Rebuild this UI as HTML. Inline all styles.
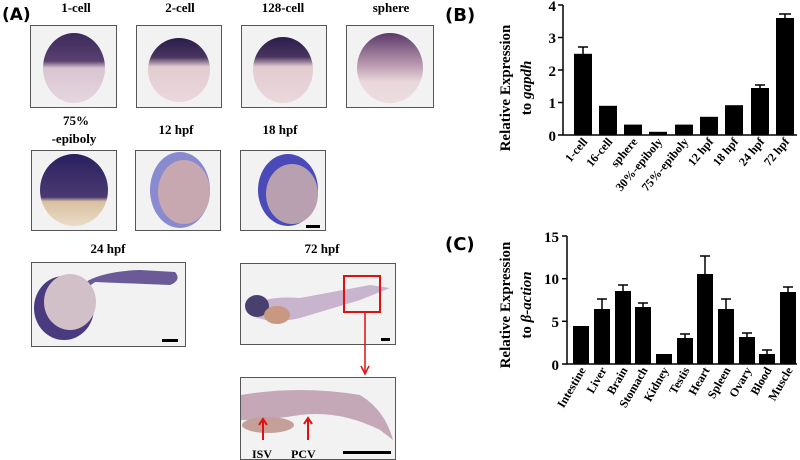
<!DOCTYPE html>
<html><head><meta charset="utf-8"><style>body{margin:0;background:#fff}svg{display:block}</style></head><body>
<svg width="800" height="460" viewBox="0 0 800 460" xmlns="http://www.w3.org/2000/svg" font-family="Liberation Serif, serif" font-weight="bold">
<defs>
<linearGradient id="e1" x1="0" y1="0" x2="0" y2="1"><stop offset="0" stop-color="#3a2a5a"/><stop offset="0.4" stop-color="#5a4070"/><stop offset="0.5" stop-color="#d8c4d0"/><stop offset="1" stop-color="#e6d6de"/></linearGradient>
<linearGradient id="e2" x1="0" y1="0" x2="0" y2="1"><stop offset="0" stop-color="#2a1d4a"/><stop offset="0.3" stop-color="#4a3460"/><stop offset="0.45" stop-color="#e2ccd0"/><stop offset="1" stop-color="#ead8dc"/></linearGradient>
<linearGradient id="e3" x1="0" y1="0" x2="0" y2="1"><stop offset="0" stop-color="#5a3a68"/><stop offset="0.5" stop-color="#c4a4b8"/><stop offset="0.7" stop-color="#ead8dc"/><stop offset="1" stop-color="#ecdcdf"/></linearGradient>
<linearGradient id="e4" x1="0" y1="0" x2="0" y2="1"><stop offset="0" stop-color="#2a2060"/><stop offset="0.6" stop-color="#4a3a70"/><stop offset="0.66" stop-color="#d8c0a0"/><stop offset="1" stop-color="#eadcc8"/></linearGradient>
</defs>
<text x="2" y="20" font-family="DejaVu Sans, sans-serif" font-size="17">(A)</text>
<g font-size="13" text-anchor="middle">
<text x="76" y="12">1-cell</text><text x="180" y="12">2-cell</text><text x="283" y="12">128-cell</text><text x="391" y="12">sphere</text>
<text x="76" y="125">75%</text><text x="74" y="143">-epiboly</text><text x="176" y="134">12 hpf</text><text x="280" y="134">18 hpf</text>
<text x="108" y="253">24 hpf</text><text x="322" y="253">72 hpf</text>
</g>
<g stroke="#555" stroke-width="1" fill="#f2f2f2">
<rect x="30.5" y="25.5" width="86" height="82"/><rect x="136.5" y="25.5" width="85" height="82"/><rect x="241.5" y="25.5" width="85" height="82"/><rect x="346.5" y="25.5" width="87" height="82"/>
<rect x="31.5" y="150.5" width="85" height="80"/><rect x="135.5" y="150.5" width="85" height="80"/><rect x="240.5" y="150.5" width="85" height="80"/>
<rect x="31.5" y="262.5" width="154" height="84"/><rect x="240.5" y="263.5" width="155" height="81"/><rect x="240.5" y="377.5" width="155" height="82"/>
</g>
<ellipse cx="74" cy="68" rx="31" ry="35" fill="url(#e1)"/>
<ellipse cx="179" cy="70" rx="31" ry="32" fill="url(#e2)"/>
<ellipse cx="283" cy="70" rx="30" ry="33" fill="url(#e2)"/>
<ellipse cx="390" cy="68" rx="33" ry="35" fill="url(#e3)"/>
<ellipse cx="74" cy="190" rx="34" ry="36" fill="url(#e4)"/>
<ellipse cx="180" cy="190" rx="30" ry="38" fill="#8a8ad0"/><ellipse cx="184" cy="192" rx="26" ry="32" fill="#c8a8b0"/>
<ellipse cx="288" cy="190" rx="30" ry="36" fill="#4a4ab8"/><ellipse cx="292" cy="194" rx="26" ry="30" fill="#b8a0b0"/>
<rect x="306" y="225" width="14" height="3" fill="#000"/>
<path d="M70 300 Q80 272 140 270 L175 272 Q182 280 170 285 L95 282 Z" fill="#6a5a98"/>
<ellipse cx="64" cy="308" rx="30" ry="32" fill="#4a3a80"/><ellipse cx="70" cy="302" rx="26" ry="28" fill="#d2c0c8"/>
<rect x="162" y="339" width="16" height="3" fill="#000"/>
<path d="M250 310 Q260 295 300 298 L370 285 L390 288 L360 300 L300 318 Q270 325 250 315 Z" fill="#c8b4cc"/>
<ellipse cx="257" cy="306" rx="12" ry="11" fill="#4a4070"/><ellipse cx="277" cy="315" rx="13" ry="9" fill="#c89880"/>
<rect x="381" y="338" width="9" height="3" fill="#000"/>
<rect x="344" y="276" width="36" height="36" fill="none" stroke="#e01010" stroke-width="2"/>
<line x1="365" y1="312" x2="365" y2="372" stroke="#e01010" stroke-width="1.5"/>
<path d="M361 366 L365 374 L369 366" fill="none" stroke="#e01010" stroke-width="1.5"/>
<path d="M241 395 Q300 385 360 395 Q385 410 393 440 L380 430 Q340 410 300 415 Q270 420 241 420 Z" fill="#c4a8b8"/>
<ellipse cx="268" cy="425" rx="26" ry="8" fill="#c4a098"/>
<g stroke="#e01010" stroke-width="2" fill="none"><path d="M263 440 L263 420 M259 425 L263 419 L267 425"/><path d="M308 440 L308 419 M304 424 L308 418 L312 424"/></g>
<text x="252" y="458" font-size="12">ISV</text><text x="291" y="458" font-size="12">PCV</text>
<rect x="343" y="451" width="48" height="3" fill="#000"/>
<!-- B -->
<text x="445" y="21" font-family="DejaVu Sans, sans-serif" font-size="18">(B)</text>
<g font-size="15" text-anchor="middle"><text transform="translate(510,88) rotate(-90)">Relative Expression</text><text transform="translate(531,88) rotate(-90)">to <tspan font-style="italic">gapdh</tspan></text></g>
<g stroke="#000" stroke-width="1.5"><line x1="563" y1="5" x2="563" y2="135"/><line x1="563" y1="135" x2="797" y2="135"/>
<line x1="558" y1="5" x2="563" y2="5"/><line x1="558" y1="37.5" x2="563" y2="37.5"/><line x1="558" y1="70" x2="563" y2="70"/><line x1="558" y1="102.5" x2="563" y2="102.5"/><line x1="558" y1="135" x2="563" y2="135"/></g>
<g font-size="15" text-anchor="end"><text x="556" y="11">4</text><text x="556" y="43">3</text><text x="556" y="76">2</text><text x="556" y="108">1</text><text x="556" y="141">0</text></g>
<g fill="#000">
<rect x="574" y="53.8" width="18" height="81.2"/><rect x="599" y="105.8" width="18" height="29.2"/><rect x="624" y="124.6" width="18" height="10.4"/><rect x="649" y="131.8" width="18" height="3.2"/><rect x="675" y="124.6" width="18" height="10.4"/><rect x="700" y="116.8" width="18" height="18.2"/><rect x="725" y="105.2" width="18" height="29.8"/><rect x="751" y="88" width="18" height="47"/><rect x="776" y="18" width="18" height="117"/>
</g>
<g stroke="#000" stroke-width="1.5"><path d="M583 54V47M578 47H588"/><path d="M785 18V14M779 14H791"/><path d="M760 88V85M755 85H765"/></g>
<g font-size="12" text-anchor="end">
<text transform="translate(588,142) rotate(-50)">1-cell</text><text transform="translate(613,142) rotate(-50)">16-cell</text><text transform="translate(638,142) rotate(-50)">sphere</text><text transform="translate(663,142) rotate(-50)">30%-epiboly</text><text transform="translate(689,142) rotate(-50)">75%-epiboly</text><text transform="translate(714,142) rotate(-50)">12 hpf</text><text transform="translate(739,142) rotate(-50)">18 hpf</text><text transform="translate(765,142) rotate(-50)">24 hpf</text><text transform="translate(790,142) rotate(-50)">72 hpf</text>
</g>
<!-- C -->
<text x="445" y="250" font-family="DejaVu Sans, sans-serif" font-size="18">(C)</text>
<g font-size="15" text-anchor="middle"><text transform="translate(510,305) rotate(-90)">Relative Expression</text><text transform="translate(531,305) rotate(-90)">to <tspan font-style="italic">β-action</tspan></text></g>
<g stroke="#000" stroke-width="1.5"><line x1="567" y1="236" x2="567" y2="364"/><line x1="567" y1="364" x2="797" y2="364"/>
<line x1="562" y1="236" x2="567" y2="236"/><line x1="562" y1="278.7" x2="567" y2="278.7"/><line x1="562" y1="321.3" x2="567" y2="321.3"/><line x1="562" y1="364" x2="567" y2="364"/></g>
<g font-size="15" text-anchor="end"><text x="559" y="242">15</text><text x="559" y="284">10</text><text x="559" y="327">5</text><text x="559" y="370">0</text></g>
<g fill="#000">
<rect x="573" y="326" width="16" height="38"/><rect x="594" y="309" width="16" height="55"/><rect x="615" y="291" width="16" height="73"/><rect x="635" y="307" width="16" height="57"/><rect x="656" y="354" width="16" height="10"/><rect x="677" y="338" width="16" height="26"/><rect x="697" y="274" width="16" height="90"/><rect x="718" y="309" width="16" height="55"/><rect x="739" y="337" width="16" height="27"/><rect x="759" y="354" width="16" height="10"/><rect x="780" y="292" width="16" height="72"/>
</g>
<g stroke="#000" stroke-width="1.5" fill="none"><path d="M602 309V299M597 299H607"/><path d="M623 291V285M618 285H628"/><path d="M643 307V303M638 303H648"/><path d="M685 338V334M680 334H690"/><path d="M705 274V256M700 256H710"/><path d="M726 309V299M721 299H731"/><path d="M747 337V333M742 333H752"/><path d="M767 354V350M762 350H772"/><path d="M788 292V287M783 287H793"/></g>
<g font-size="12" text-anchor="end">
<text transform="translate(586,370) rotate(-60)">Intestine</text><text transform="translate(607,370) rotate(-60)">Liver</text><text transform="translate(628,370) rotate(-60)">Brain</text><text transform="translate(648,370) rotate(-60)">Stomach</text><text transform="translate(669,370) rotate(-60)">Kidney</text><text transform="translate(690,370) rotate(-60)">Testis</text><text transform="translate(710,370) rotate(-60)">Heart</text><text transform="translate(731,370) rotate(-60)">Spleen</text><text transform="translate(752,370) rotate(-60)">Ovary</text><text transform="translate(772,370) rotate(-60)">Blood</text><text transform="translate(793,370) rotate(-60)">Muscle</text>
</g>
</svg>
</body></html>
